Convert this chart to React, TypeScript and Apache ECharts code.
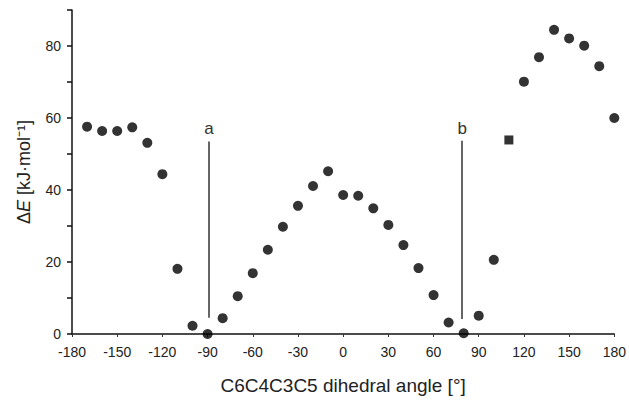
import React, { useEffect, useRef } from "react";
import * as echarts from "echarts";

const angles = [-170, -160, -150, -140, -130, -120, -110, -100, -90, -80, -70, -60, -50, -40, -30, -20, -10, 0, 10, 20, 30, 40, 50, 60, 70, 80, 90, 100, 110, 120, 130, 140, 150, 160, 170, 180];
const energies = [57.6, 56.4, 56.4, 57.4, 53.1, 44.4, 18.1, 2.3, 0, 4.4, 10.5, 16.9, 23.4, 29.8, 35.6, 41.1, 45.2, 38.6, 38.4, 34.9, 30.3, 24.7, 18.3, 10.8, 3.2, 0.2, 5.1, 20.6, 53.9, 70.1, 76.9, 84.5, 82.1, 80.1, 74.4, 60.0];
const squareAngles = [110];
const xTicks = { min: -180, max: 180, step: 30 };
const yTicks = { min: 0, max: 90, step: 10, labelStep: 20 };
const markers = [
  { name: "a", x: -89, y0: 4.5, y1: 53.5 },
  { name: "b", x: 79, y0: 4.2, y1: 53.7 },
];

export default function App() {
  const ref = useRef<HTMLDivElement>(null);
  useEffect(() => {
    if (!ref.current) return;
    const chart = echarts.init(ref.current, null, { renderer: "svg" });
    const font = "'Liberation Sans', Arial, sans-serif";
    const data = angles.map((a, i) => {
      const item: any = { value: [a, energies[i]] };
      if (squareAngles.includes(a)) {
        item.symbol = "rect";
        item.symbolSize = 9;
      }
      return item;
    });
    chart.setOption({
      animation: false,
      backgroundColor: "#ffffff",
      textStyle: { fontFamily: font },
      grid: { left: 72, right: 12, top: 10, bottom: 65, containLabel: false },
      xAxis: {
        type: "value",
        min: xTicks.min,
        max: xTicks.max,
        interval: xTicks.step,
        name: "C6C4C3C5 dihedral angle [°]",
        nameLocation: "middle",
        nameGap: 42,
        nameTextStyle: { fontSize: 19, color: "#222", fontFamily: font },
        axisLine: { onZero: false, lineStyle: { color: "#111", width: 1.5 } },
        axisTick: { show: true, length: 3, lineStyle: { color: "#333" } },
        axisLabel: { fontSize: 14, color: "#222", margin: 11, fontFamily: font },
        splitLine: { show: false },
      },
      yAxis: {
        type: "value",
        min: yTicks.min,
        max: yTicks.max,
        interval: yTicks.step,
        name: "{n|Δ}{i|E}{n| [kJ·mol⁻¹]}",
        nameLocation: "middle",
        nameGap: 39,
        nameRotate: 90,
        nameTextStyle: {
          rich: {
            n: { fontSize: 18, color: "#222", fontFamily: font },
            i: { fontSize: 18, color: "#222", fontStyle: "italic", fontFamily: font },
          },
        },
        axisLine: { show: true, onZero: false, lineStyle: { color: "#111", width: 1.5 } },
        axisTick: { show: true, length: 5, lineStyle: { color: "#111", width: 1.5 } },
        axisLabel: {
          fontSize: 14,
          color: "#222",
          margin: 11,
          fontFamily: font,
          formatter: (v: number) => (v % yTicks.labelStep === 0 && v < yTicks.max ? String(v) : ""),
        },
        splitLine: { show: false },
      },
      series: [
        {
          type: "scatter",
          symbol: "circle",
          symbolSize: 10,
          itemStyle: { color: "#000" },
          data,
          markLine: {
            silent: true,
            symbol: "none",
            lineStyle: { color: "#333", width: 1.5, type: "solid" },
            label: { show: true, position: "end", formatter: "{b}", fontSize: 17, color: "#333", fontFamily: font, distance: 4 },
            data: markers.map((m) => [
              { name: m.name, coord: [m.x, m.y0] },
              { coord: [m.x, m.y1] },
            ]),
          },
        },
      ],
    });
    return () => chart.dispose();
  }, []);
  return <div ref={ref} style={{ position: "fixed", left: 0, top: 0, width: 629, height: 400 }} />;
}
